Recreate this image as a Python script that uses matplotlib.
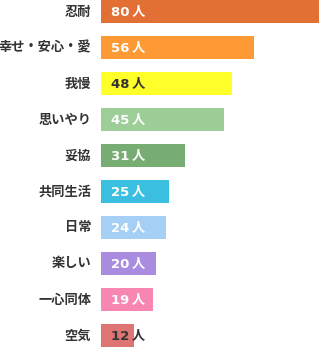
import matplotlib.pyplot as plt
import numpy as np

plt.rcParams['font.family'] = ['Noto Sans CJK JP', 'DejaVu Sans']

categories = ['忍耐', '幸せ・安心・愛', '我慢', '思いやり', '妥協', '共同生活', '日常', '楽しい', '一心同体', '空気']
counts = [80, 56, 48, 45, 31, 25, 24, 20, 19, 12]
colors = ['#E27035', '#FD9A35', '#FFFF2A', '#9DCE98', '#77AD73',
          '#3BBFE0', '#A5CFF5', '#A98CE0', '#F787B0', '#DD7575']
label_colors = ['white', 'white', '#333333', 'white', 'white',
                'white', 'white', 'white', 'white', '#333333']

fig = plt.figure(figsize=(3.19, 3.47), dpi=100)
ax = fig.add_axes([101 / 319, 0, 218 / 319, 1])

y = np.arange(len(categories))
ax.barh(y, counts, height=0.64, color=colors)
ax.set_xlim(0, 80)
ax.set_ylim(len(categories) - 1 + 0.32, -0.32)
ax.axis('off')

for yi, cat, n, lc in zip(y, categories, counts, label_colors):
    ax.text(-3.6, yi, cat, ha='right', va='center', fontsize=9.5,
            fontweight='bold', color='#333333')
    ax.text(3.6, yi, f'{n}\u2009人', ha='left', va='center', fontsize=9.5,
            fontweight='bold', color=lc, family=['DejaVu Sans', 'Noto Sans CJK JP'])

fig.savefig('out.png', dpi=100)
